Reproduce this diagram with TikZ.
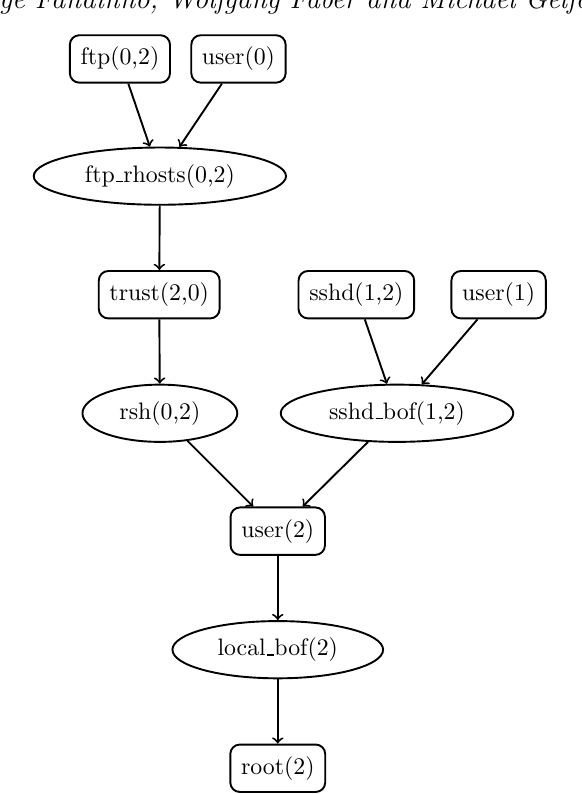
\documentclass[tikz,border=0pt]{standalone}
\usetikzlibrary{shapes.geometric}
\newcommand{\lowbar}{\leavevmode\kern.06em\vbox{\hrule width.3em height.5pt}}
\begin{document}
\begin{tikzpicture}[thick,
        box/.style = {draw, rounded corners = 4pt, inner sep = 4.5pt, minimum height = 0.7cm},
        oval/.style = {draw, ellipse, inner xsep = 6pt, inner ysep = 3.5pt}]
        \useasboundingbox (0,0) rectangle (8.59,-11.72);
        % running head of the page, cut by the frame
        \node [anchor = base, inner sep = 0pt, font = \fontsize{12}{15}\selectfont\itshape] (head) at (4.28,-0.13) {Jorge Fandinno, Wolfgang Faber and Michael Gelfond};
        \node [box] (ftp) at (1.77,-0.87) {ftp(0,2)};
        \node [box] (user0) at (3.52,-0.87) {user(0)};
        \node [oval] (ftprhosts) at (2.36,-2.60) {ftp\lowbar rhosts(0,2)};
        \node [box] (trust) at (2.35,-4.35) {trust(2,0)};
        \node [box] (sshd) at (5.26,-4.35) {sshd(1,2)};
        \node [box] (user1) at (7.36,-4.35) {user(1)};
        \node [oval] (rsh) at (2.36,-6.10) {rsh(0,2)};
        \node [oval] (sshdbof) at (5.86,-6.10) {sshd\lowbar bof(1,2)};
        \node [box] (user2) at (4.10,-7.84) {user(2)};
        \node [oval] (localbof) at (4.10,-9.59) {local\lowbar bof(2)};
        \node [box] (root) at (4.10,-11.34) {root(2)};
        \draw [->] (ftp) -- (ftprhosts);
        \draw [->] (user0) -- (ftprhosts);
        \draw [->] (ftprhosts) -- (trust);
        \draw [->] (trust) -- (rsh);
        \draw [->] (sshd) -- (sshdbof);
        \draw [->] (user1) -- (sshdbof);
        \draw [->] (rsh) -- (user2);
        \draw [->] (sshdbof) -- (user2);
        \draw [->] (user2) -- (localbof);
        \draw [->] (localbof) -- (root);
    \end{tikzpicture}
\end{document}
